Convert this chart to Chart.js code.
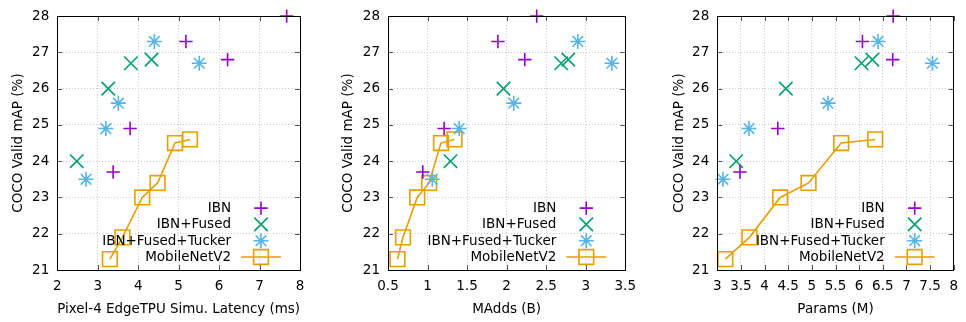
<!DOCTYPE html>
<html>
<head>
<meta charset="utf-8">
<script src="https://cdn.jsdelivr.net/npm/chart.js@4/dist/chart.umd.min.js"></script>
<style>
  html, body { margin: 0; padding: 0; background: #ffffff; }
  #wrap { position: relative; width: 966px; height: 322px; }
  .panel { position: absolute; top: 0; width: 322px; height: 322px; }
</style>
</head>
<body>
<div id="wrap">
  <div class="panel" style="left:0px"><canvas id="c1" width="322" height="322"></canvas></div>
  <div class="panel" style="left:322px"><canvas id="c2" width="322" height="322"></canvas></div>
  <div class="panel" style="left:644px"><canvas id="c3" width="322" height="322"></canvas></div>
</div>
<script>
// ---------- data ----------
const seriesNames = ["IBN", "IBN+Fused", "IBN+Fused+Tucker", "MobileNetV2"];
const yTitle = "COCO Valid mAP (%)";

const ibnMap = [28.0, 27.3, 26.8, 24.9, 23.7];
const fusedMap = [26.7, 26.8, 26.0, 24.0];
const tuckerMap = [27.3, 26.7, 25.6, 24.9, 23.5];
const mbv2Map = [21.3, 21.9, 23.0, 23.4, 24.5, 24.6];

// panel 1: latency
const ibnLatency = [7.67, 5.18, 6.21, 3.80, 3.38];
const fusedLatency = [3.82, 4.33, 3.26, 2.48];
const tuckerLatency = [4.40, 5.51, 3.51, 3.20, 2.71];
const mbv2Latency = [3.30, 3.61, 4.10, 4.48, 4.91, 5.28];

// panel 2: MAdds
const ibnMAdds = [2.38, 1.89, 2.23, 1.21, 0.94];
const fusedMAdds = [2.69, 2.78, 1.96, 1.29];
const tuckerMAdds = [2.90, 3.33, 2.09, 1.40, 1.06];
const mbv2MAdds = [0.62, 0.69, 0.87, 1.02, 1.17, 1.34];

// panel 3: params
const ibnParams = [6.72, 6.07, 6.71, 4.28, 3.48];
const fusedParams = [6.05, 6.28, 4.45, 3.40];
const tuckerParams = [6.40, 7.55, 5.34, 3.67, 3.12];
const mbv2Params = [3.17, 3.68, 4.33, 4.93, 5.62, 6.34];

const xTitles = ["Pixel-4 EdgeTPU Simu. Latency (ms)", "MAdds (B)", "Params (M)"];
const xRanges = [[2, 8, 1], [0.5, 3.5, 0.5], [3, 8, 0.5]];
const yRange = [21, 28, 1];

// ---------- style ----------
const FONT = "'DejaVu Sans', sans-serif";
const FS = 13.5;
const colors = ["#9400D3", "#009E73", "#56B4E9", "#E69F00"];
const styles = [
  { pointStyle: "cross", radius: 6.7 },
  { pointStyle: "crossRot", radius: 9.5 },
  { pointStyle: "star", radius: 7.5 },
  { pointStyle: "rect", radius: 10.4 }
];
const LW = 1.6;

function pts(xs, ys) { return xs.map((x, i) => ({ x: x, y: ys[i] })); }
function fmt(v) { return String(Math.round(v * 100) / 100); }

const framePlugin = {
  id: "frame",
  afterDatasetsDraw(chart) {
    const ctx = chart.ctx, a = chart.chartArea;
    const xs = chart.scales.x, ys = chart.scales.y;
    ctx.save();
    ctx.strokeStyle = "#555555";
    ctx.lineWidth = 1;
    ctx.beginPath();
    const tl = 5;
    xs.ticks.forEach(t => {
      const px = Math.round(xs.getPixelForValue(t.value)) + 0.5;
      ctx.moveTo(px, a.bottom); ctx.lineTo(px, a.bottom - tl);
      ctx.moveTo(px, a.top); ctx.lineTo(px, a.top + tl);
    });
    ys.ticks.forEach(t => {
      const py = Math.round(ys.getPixelForValue(t.value)) + 0.5;
      ctx.moveTo(a.left, py); ctx.lineTo(a.left + tl, py);
      ctx.moveTo(a.right, py); ctx.lineTo(a.right - tl, py);
    });
    ctx.stroke();
    ctx.strokeStyle = "#000000";
    ctx.lineWidth = 1;
    ctx.strokeRect(Math.round(a.left) + 0.5, Math.round(a.top) + 0.5,
                   Math.round(a.right - a.left), Math.round(a.bottom - a.top));
    ctx.restore();
  },
  afterDraw(chart) {
    const ctx = chart.ctx, a = chart.chartArea;
    const n = chart.data.datasets.length;
    ctx.save();
    ctx.font = FS + "px " + FONT;
    ctx.textAlign = "right";
    ctx.textBaseline = "middle";
    chart.data.datasets.forEach((ds, i) => {
      const y = a.bottom - 13 - (n - 1 - i) * 16.3;
      const sx = a.right - 39;
      ctx.fillStyle = "#000000";
      ctx.fillText(ds.label, a.right - 69, y + 0.5);
      ctx.strokeStyle = ds.borderColor;
      ctx.fillStyle = "rgba(0,0,0,0)";
      ctx.lineWidth = LW;
      if (ds.showLine) {
        ctx.beginPath();
        ctx.moveTo(sx - 20, y); ctx.lineTo(sx + 20, y);
        ctx.stroke();
      }
      Chart.helpers.drawPoint(ctx, { pointStyle: ds.pointStyle, radius: ds.pointRadius, borderWidth: LW, rotation: 0 }, sx, y);
    });
    ctx.restore();
  }
};

function makeChart(id, idx, xs4, left, right) {
  const ys4 = [ibnMap, fusedMap, tuckerMap, mbv2Map];
  const datasets = xs4.map((xs, i) => ({
    label: seriesNames[i],
    data: pts(xs, ys4[i]),
    showLine: i === 3,
    borderColor: colors[i],
    backgroundColor: "rgba(0,0,0,0)",
    borderWidth: LW,
    pointStyle: styles[i].pointStyle,
    pointRadius: styles[i].radius,
    pointHoverRadius: styles[i].radius,
    pointBorderWidth: LW,
    pointBorderColor: colors[i],
    pointBackgroundColor: "rgba(0,0,0,0)",
    tension: 0,
    clip: false
  }));
  const xr = xRanges[idx];
  const yTitlePad = [10.0, 18.7, 27.0][idx];
  return new Chart(document.getElementById(id), {
    type: "scatter",
    data: { datasets: datasets },
    options: {
      responsive: false,
      animation: false,
      events: [],
      layout: { padding: { top: 10, right: 322 - right, bottom: 0, left: 0 } },
      plugins: { legend: { display: false }, tooltip: { enabled: false } },
      scales: {
        x: {
          type: "linear", min: xr[0], max: xr[1],
          ticks: { stepSize: xr[2], autoSkip: false, maxRotation: 0, padding: 8, color: "#000", font: { family: FONT, size: FS }, callback: fmt },
          grid: { color: "#c8c8c8", lineWidth: 1, drawTicks: false },
          border: { display: false, dash: [1, 2] },
          title: { display: true, text: xTitles[idx], color: "#000", font: { family: FONT, size: FS }, padding: { top: 0, bottom: 4 } },
          afterFit(s) { s.height = 52; }
        },
        y: {
          type: "linear", min: yRange[0], max: yRange[1],
          ticks: { stepSize: yRange[2], padding: 8, color: "#000", font: { family: FONT, size: FS }, callback: fmt },
          grid: { color: "#c8c8c8", lineWidth: 1, drawTicks: false },
          border: { display: false, dash: [1, 2] },
          title: { display: true, text: yTitle, color: "#000", font: { family: FONT, size: FS }, padding: { top: yTitlePad, bottom: 0 } },
          afterFit(s) { s.width = left; }
        }
      }
    },
    plugins: [framePlugin]
  });
}

makeChart("c1", 0, [ibnLatency, fusedLatency, tuckerLatency, mbv2Latency], 57.3, 300);
makeChart("c2", 1, [ibnMAdds, fusedMAdds, tuckerMAdds, mbv2MAdds], 66, 311.7);
makeChart("c3", 2, [ibnParams, fusedParams, tuckerParams, mbv2Params], 73.3, 315);
</script>
</body>
</html>
